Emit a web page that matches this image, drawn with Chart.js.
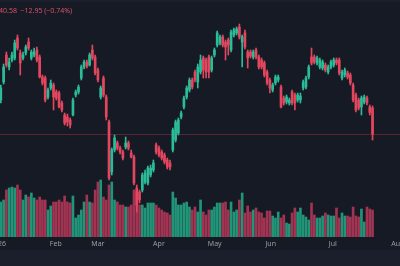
<!DOCTYPE html>
<html>
<head>
<meta charset="utf-8">
<script src="https://cdn.jsdelivr.net/npm/chart.js@4/dist/chart.umd.min.js"></script>
<style>
    html, body { margin: 0; padding: 0; background: #161a25; }
    canvas { display: block; }
</style>
</head>
<body>
<canvas id="chart" width="400" height="266"></canvas>
<script>
// Daily candles, Jan - Jul 2026
var opens = [
    1761, 1771.8, 1788, 1780.8, 1785, 1786.2, 1798.2, 1789.2, 1786.2, 1789.2,
    1795.8, 1786.2, 1788, 1791, 1786.8, 1774.8, 1774.2, 1762.8, 1768.2, 1770,
    1765.8, 1765.2, 1759.2, 1752, 1750.8, 1749, 1752, 1764, 1765.8, 1774.2,
    1780.8, 1783.8, 1782, 1791, 1786.8, 1779, 1762.8, 1774.2, 1762.8, 1747.8,
    1717.8, 1731, 1735.2, 1732.2, 1729.8, 1732.8, 1735.2, 1729.2, 1726.8, 1708.2,
    1705.8, 1707, 1711.8, 1711.2, 1716, 1719, 1734, 1732.2, 1729.8, 1728,
    1725, 1723.2, 1731, 1737, 1741.2, 1750.8, 1756.8, 1762.8, 1767, 1773,
    1777.8, 1771.8, 1777.8, 1786.2, 1785, 1786.8, 1779, 1788, 1794, 1795.2,
    1798.8, 1795.8, 1797, 1791, 1800, 1801.2, 1804.8, 1795.8, 1801.2, 1789.8,
    1789.8, 1786.8, 1791, 1786.8, 1785, 1783.2, 1777.8, 1773, 1767, 1771.2,
    1773, 1768.8, 1762.2, 1759.8, 1759.2, 1765.8, 1764, 1761, 1761, 1768.2,
    1768.8, 1774.8, 1786.8, 1786.8, 1783.2, 1780.8, 1780.2, 1782, 1777.8, 1780.8,
    1782, 1785, 1785, 1774.2, 1776, 1777.2, 1776, 1770, 1764, 1761,
    1756.8, 1759.8, 1762.2, 1756.8, 1756.2
];
var highs = [
    1770, 1782.6, 1789.8, 1786.2, 1789.8, 1797, 1800, 1791, 1789.8, 1794,
    1798.2, 1791, 1792.2, 1792.8, 1788, 1776, 1775.4, 1768.2, 1773, 1771.2,
    1767, 1766.4, 1760.4, 1753.2, 1752.6, 1750.2, 1762.2, 1767, 1770, 1782,
    1785, 1785, 1789.2, 1794, 1788, 1780.2, 1769.4, 1775.4, 1764, 1749,
    1732.2, 1740, 1736.4, 1733.4, 1731, 1738.8, 1736.4, 1731, 1728, 1710,
    1707, 1717.2, 1719, 1721.4, 1722, 1725, 1735.2, 1733.4, 1731, 1729.2,
    1726.2, 1725, 1744.2, 1749, 1750.2, 1754.4, 1763.4, 1769.4, 1774.2, 1774.2,
    1779, 1782.6, 1788, 1787.4, 1786.2, 1788, 1787.4, 1792.2, 1802.4, 1800,
    1800, 1797, 1798.2, 1803, 1804.2, 1804.8, 1806.6, 1800, 1803, 1791,
    1791, 1791, 1792.2, 1788, 1786.2, 1784.4, 1779, 1774.2, 1771.2, 1776,
    1776, 1770, 1763.4, 1764, 1762.2, 1767, 1765.2, 1765.2, 1765.2, 1773,
    1775.4, 1782, 1792.2, 1788, 1787.4, 1786.2, 1785, 1783.2, 1782, 1785,
    1786.2, 1786.2, 1786.2, 1779, 1780.2, 1778.4, 1777.2, 1771.2, 1765.2, 1762.2,
    1763.4, 1764, 1763.4, 1758, 1757.4
];
var lows = [
    1759.2, 1770.6, 1780.8, 1779, 1783.8, 1785, 1791, 1776, 1785, 1788,
    1791, 1785, 1786.8, 1783.8, 1774.2, 1770, 1759.8, 1761.6, 1767, 1755,
    1761, 1756.2, 1753.8, 1746, 1745.4, 1744.2, 1751.4, 1762.8, 1764.6, 1773,
    1779.6, 1780.2, 1781.4, 1785, 1776, 1771.8, 1761.6, 1762.8, 1749, 1713,
    1716, 1729.8, 1731, 1728.6, 1725, 1731.6, 1731, 1726.2, 1710, 1693.8,
    1699.2, 1705.8, 1710.6, 1710, 1714.8, 1717.8, 1728.6, 1726.8, 1725, 1722.6,
    1719.6, 1719, 1729.8, 1735.8, 1740, 1749.6, 1755.6, 1761.6, 1765.8, 1767.6,
    1771.8, 1768.2, 1776.6, 1774.2, 1774.2, 1774.2, 1777.8, 1786.8, 1792.8, 1794,
    1792.8, 1785, 1788, 1789.8, 1798.8, 1800, 1797.6, 1780.8, 1791.6, 1780.2,
    1786.2, 1785.6, 1785.6, 1779.6, 1779.6, 1774.8, 1770, 1765.2, 1765.8, 1770,
    1771.8, 1756.2, 1758, 1758.6, 1758, 1758, 1755, 1759.8, 1759.2, 1767,
    1767.6, 1773.6, 1782, 1782.6, 1782, 1779.6, 1779, 1777.8, 1776.6, 1779.6,
    1780.8, 1782, 1776, 1773, 1774.8, 1773.6, 1770, 1759.8, 1753.8, 1755,
    1752, 1758.6, 1758, 1752, 1737
];
var closes = [
    1768.2, 1780.8, 1782, 1783.8, 1788, 1795.2, 1792.2, 1783.2, 1788, 1792.8,
    1792.2, 1789.8, 1789.8, 1785, 1774.8, 1771.2, 1761, 1767, 1771.2, 1762.8,
    1762.2, 1756.8, 1755, 1747.2, 1747.8, 1746, 1761, 1765.8, 1768.8, 1780.8,
    1783.8, 1781.4, 1788, 1786.2, 1777.2, 1773, 1768.2, 1764, 1750.8, 1714.2,
    1731, 1738.2, 1732.2, 1729.8, 1726.2, 1735.2, 1732.2, 1726.8, 1711.2, 1698,
    1701, 1716, 1717.2, 1720.2, 1720.2, 1723.2, 1729.8, 1728, 1726.2, 1723.8,
    1720.8, 1720.8, 1743, 1747.8, 1749, 1753.2, 1762.2, 1768.2, 1773, 1768.8,
    1773, 1780.8, 1785, 1779, 1777.8, 1777.8, 1786.2, 1791, 1801.2, 1798.8,
    1794, 1792.8, 1794, 1801.8, 1803, 1803.6, 1798.8, 1798.8, 1792.8, 1786.2,
    1787.4, 1789.8, 1786.8, 1780.8, 1780.8, 1776, 1771.2, 1768.2, 1770, 1774.8,
    1774.8, 1756.8, 1759.2, 1762.8, 1761, 1759.2, 1759.2, 1764, 1763.4, 1771.8,
    1774.2, 1780.8, 1783.2, 1783.8, 1786.2, 1785, 1783.8, 1779, 1780.8, 1783.8,
    1785, 1783.2, 1777.2, 1777.8, 1779, 1774.8, 1771.2, 1761, 1755, 1756.2,
    1762.2, 1762.8, 1759.2, 1753.53, 1740.58
];
// volume, thousands of shares
var volumes = [
    700, 740, 940, 980, 1000, 980, 1040, 940, 740, 840,
    800, 880, 780, 740, 800, 740, 740, 540, 620, 700,
    700, 740, 700, 820, 700, 680, 820, 380, 440, 540,
    700, 840, 700, 680, 940, 1100, 1140, 800, 740, 1040,
    1100, 740, 700, 640, 640, 600, 600, 640, 940, 900,
    640, 640, 580, 680, 680, 680, 640, 580, 540, 500,
    480, 440, 900, 780, 640, 640, 680, 700, 600, 540,
    600, 500, 740, 500, 440, 540, 540, 600, 680, 680,
    680, 700, 540, 700, 500, 540, 740, 880, 480, 620,
    500, 540, 580, 500, 480, 380, 520, 520, 420, 380,
    500, 380, 440, 280, 260, 480, 580, 500, 580, 440,
    400, 340, 680, 440, 380, 380, 420, 480, 440, 420,
    420, 580, 380, 480, 420, 420, 400, 600, 420, 400,
    560, 300, 600, 560, 540
];
// month labels sit on the first session of each month (candle index)
var monthPos = [-1.0, 19.8, 35, 57, 77.1, 97.3, 119.7, 143.1];
var monthLabels = ['2026', 'Feb', 'Mar', 'Apr', 'May', 'Jun', 'Jul', 'Aug'];

(function () {
    'use strict';

    var C = {
        bg: '#161a25',
        band: '#1b1f2b',
        up: '#2bbd98',
        down: '#e3475f',
        upVol: '#229478',
        downVol: '#a03452',
        priceLine: '#5a2433',
        text: '#9a9ca5'
    };

    var body = [], wick = [], vol = [], bodyCol = [], volCol = [];
    for (var i = 0; i < closes.length; i++) {
        var up = closes[i] >= opens[i];
        body.push({ x: i, y: [opens[i], closes[i]] });
        wick.push({ x: i, y: [lows[i], highs[i]] });
        vol.push({ x: i, y: volumes[i] });
        bodyCol.push(up ? C.up : C.down);
        volCol.push(up ? C.upVol : C.downVol);
    }

    // background, bottom band and last-price line
    var backdrop = {
        id: 'backdrop',
        beforeDraw: function (chart) {
            var ctx = chart.ctx;
            ctx.save();
            ctx.fillStyle = C.bg;
            ctx.fillRect(0, 0, chart.width, chart.height);
            ctx.fillStyle = C.band;
            ctx.fillRect(0, 250, chart.width, chart.height - 250);
            ctx.fillRect(0, 0, chart.width, 2);
            ctx.restore();
        },
        beforeDatasetsDraw: function (chart) {
            var ctx = chart.ctx;
            var y = Math.round(chart.scales.y.getPixelForValue(closes[closes.length - 1])) + 0.5;
            ctx.save();
            ctx.strokeStyle = C.priceLine;
            ctx.lineWidth = 1;
            ctx.beginPath();
            ctx.moveTo(0, y);
            ctx.lineTo(chart.width, y);
            ctx.stroke();
            ctx.restore();
        },
        afterDraw: function (chart) {
            // legend row, cut off at the left edge like the screenshot
            var ctx = chart.ctx;
            var n = closes.length;
            var chg = closes[n - 1] - closes[n - 2];
            var pct = chg / closes[n - 2] * 100;
            var head = '1,' + closes[n - 1].toFixed(2).slice(1);
            var tail = '  \u2212' + Math.abs(chg).toFixed(2) + ' (\u2212' + Math.abs(pct).toFixed(2) + '%)';
            ctx.save();
            ctx.font = '7px "Noto Sans", sans-serif';
            ctx.fillStyle = '#d9506a';
            ctx.textBaseline = 'middle';
            var cut = ctx.measureText('1,7').width;
            ctx.fillText(head + tail, -1 - cut, 11);
            ctx.restore();
        }
    };

    new Chart(document.getElementById('chart'), {
        type: 'bar',
        data: {
            datasets: [
                {
                    label: 'Volume',
                    data: vol,
                    yAxisID: 'yVol',
                    backgroundColor: volCol,
                    barThickness: 2,
                    grouped: false,
                    order: 3
                },
                {
                    label: 'Wick',
                    data: wick,
                    backgroundColor: bodyCol,
                    barThickness: 1,
                    grouped: false,
                    order: 2
                },
                {
                    label: 'Body',
                    data: body,
                    backgroundColor: bodyCol,
                    barThickness: 2,
                    minBarLength: 1,
                    grouped: false,
                    order: 1
                }
            ]
        },
        options: {
            responsive: false,
            animation: false,
            layout: { padding: 0 },
            plugins: { legend: { display: false }, tooltip: { enabled: false } },
            scales: {
                x: {
                    type: 'linear',
                    offset: false,
                    min: -0.3,
                    max: 143.9,
                    grid: { display: false, drawTicks: false },
                    border: { display: false },
                    afterBuildTicks: function (scale) {
                        scale.ticks = monthPos.map(function (v) { return { value: v }; });
                    },
                    afterFit: function (scale) {
                        scale.height = 29;
                        scale.paddingLeft = 0;
                        scale.paddingRight = 0;
                    },
                    ticks: {
                        autoSkip: false,
                        maxRotation: 0,
                        padding: 3,
                        color: C.text,
                        font: { family: '"Noto Sans", sans-serif', size: 7 },
                        callback: function (v, idx) { return monthLabels[idx]; }
                    }
                },
                y: {
                    display: false,
                    min: 1678.8,
                    max: 1821
                },
                yVol: {
                    display: false,
                    min: 0,
                    max: 4740
                }
            }
        },
        plugins: [backdrop]
    });
})();
</script>
</body>
</html>
